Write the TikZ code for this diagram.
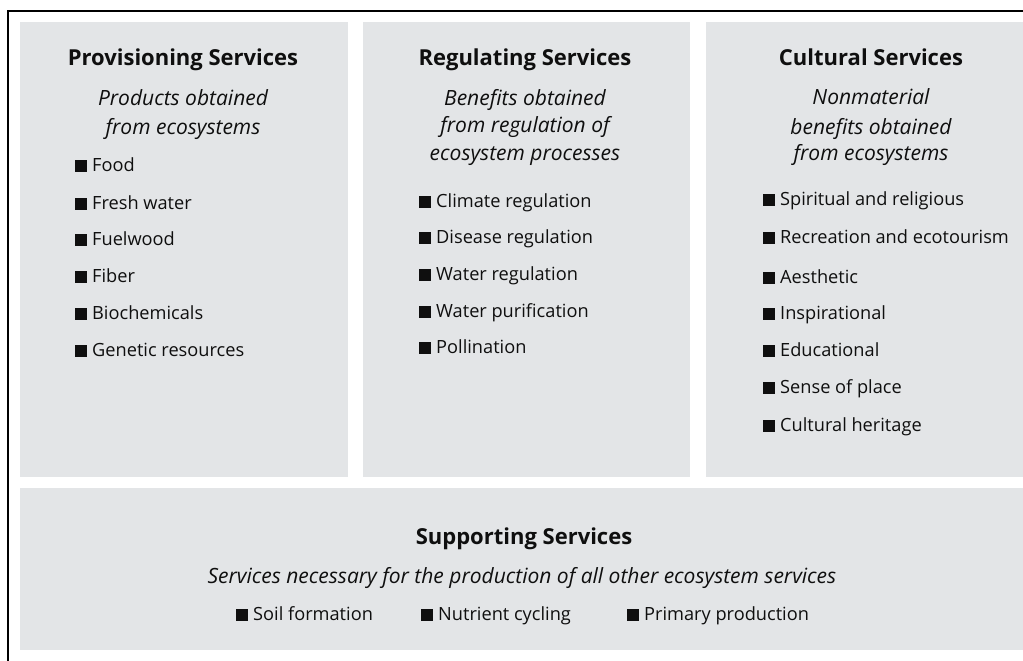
\documentclass[tikz,border=0pt]{standalone}
\usepackage{fontspec}
\setmainfont{Open Sans}
\definecolor{boxgray}{RGB}{227,229,231}
\definecolor{ink}{RGB}{15,15,15}
\newcommand{\bul}{\rule{11.5pt}{11.5pt}\hspace{5.5pt}}
\tikzset{
  ttl/.style={inner sep=0pt, text height=15.5pt, text depth=0pt, font=\bfseries\fontsize{22}{24}\selectfont, text=ink},
  sub/.style={inner sep=0pt, text height=14pt, text depth=0pt, font=\itshape\fontsize{21}{23}\selectfont, text=ink},
  itm/.style={inner sep=0pt, text height=13pt, text depth=0pt, anchor=west, font=\fontsize{18.2}{20}\selectfont, text=ink},
}
\begin{document}
\begin{tikzpicture}[x=1pt,y=-1pt]
\useasboundingbox (0,0) rectangle (1023,661);
% frame
\draw[line width=1.5pt] (1023,11) -- (8,11) -- (8,661);
% boxes
\fill[boxgray] (20,22) rectangle (348,477);
\fill[boxgray] (363,22) rectangle (690,477);
\fill[boxgray] (706,22) rectangle (1023,477);
\fill[boxgray] (20,488) rectangle (1023,650);
% Provisioning
\node[ttl] (pt) at (183,58) {Provisioning Services};
\node[sub] (ps1) at (183,98) {Products obtained};
\node[sub] (ps2) at (183,127) {from ecosystems};
\node[itm] (p1) at (75,165) {\bul Food};
\node[itm] (p2) at (75,203) {\bul Fresh water};
\node[itm] (p3) at (75,239) {\bul Fuelwood};
\node[itm] (p4) at (75,276) {\bul Fiber};
\node[itm] (p5) at (75,313) {\bul Biochemicals};
\node[itm] (p6) at (75,350) {\bul Genetic resources};
% Regulating
\node[ttl] (rt) at (525,58) {Regulating Services};
\node[sub] (rs1) at (525,98) {Benefits obtained};
\node[sub] (rs2) at (525,125) {from regulation of};
\node[sub] (rs3) at (525,153) {ecosystem processes};
\node[itm] (r1) at (419,201) {\bul Climate regulation};
\node[itm] (r2) at (419,237) {\bul Disease regulation};
\node[itm] (r3) at (419,274) {\bul Water regulation};
\node[itm] (r4) at (419,311) {\bul Water purification};
\node[itm] (r5) at (419,347) {\bul Pollination};
% Cultural
\node[ttl] (ct) at (871,58) {Cultural Services};
\node[sub] (cs1) at (871,97) {Nonmaterial};
\node[sub] (cs2) at (871,127) {benefits obtained};
\node[sub] (cs3) at (871,153) {from ecosystems};
\node[itm] (c1) at (763,199) {\bul Spiritual and religious};
\node[itm] (c2) at (763,237) {\bul Recreation and ecotourism};
\node[itm] (c3) at (763,277) {\bul Aesthetic};
\node[itm] (c4) at (763,313) {\bul Inspirational};
\node[itm] (c5) at (763,350) {\bul Educational};
\node[itm] (c6) at (763,387) {\bul Sense of place};
\node[itm] (c7) at (763,425) {\bul Cultural heritage};
% Supporting
\node[ttl] (st) at (524,537) {Supporting Services};
\node[sub] (ss) at (522,576) {Services necessary for the production of all other ecosystem services};
\node[itm] (s1) at (236,614) {\bul Soil formation};
\node[itm] (s2) at (421,614) {\bul Nutrient cycling};
\node[itm] (s3) at (627,614) {\bul Primary production};
\end{tikzpicture}
\end{document}
